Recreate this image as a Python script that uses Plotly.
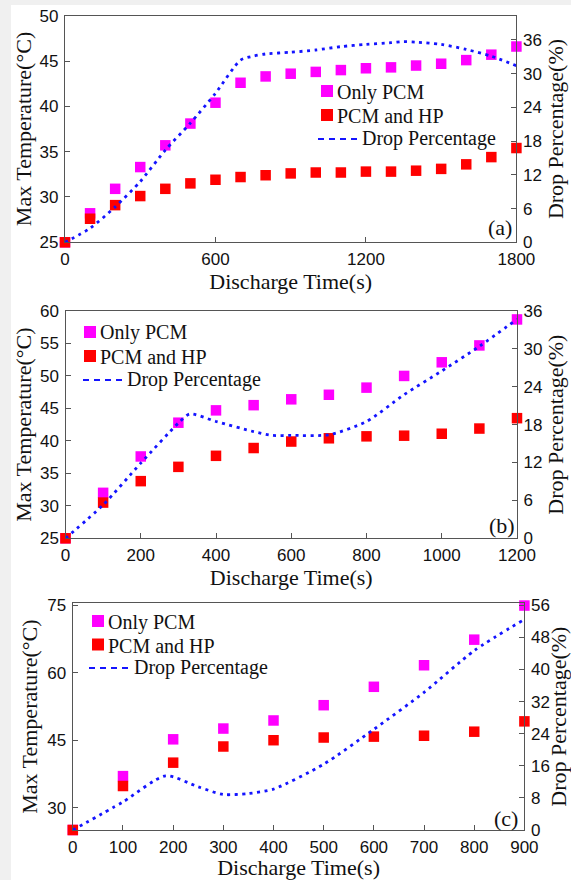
import plotly.graph_objects as go

# the page body margin is set (post_script) to 5px top / 11px left with a light grey background,
# reproducing the grey border of the reference; figure content is laid out in page pixels minus these offsets
OFFX, OFFY = 11, 5
W, H = 571 - OFFX, 880 - OFFY

# ---------------- data ----------------
# panel (a)
t_a = [0, 100, 200, 300, 400, 500, 600, 700, 800, 900, 1000, 1100, 1200, 1300, 1400, 1500, 1600, 1700, 1800]
pcm_a = [25, 28.2, 30.9, 33.3, 35.7, 38.1, 40.4, 42.6, 43.3, 43.6, 43.8, 44.0, 44.2, 44.3, 44.5, 44.7, 45.1, 45.7, 46.6]
hp_a = [25, 27.6, 29.1, 30.1, 30.9, 31.5, 31.9, 32.2, 32.4, 32.6, 32.7, 32.7, 32.8, 32.8, 32.9, 33.1, 33.6, 34.4, 35.4]
drop_t_a = [0, 100, 200, 300, 400, 500, 600, 700, 750, 800, 900, 1000, 1100, 1200, 1300, 1350, 1400, 1500, 1600, 1700, 1800]
drop_a = [0, 2.5, 6.3, 10.8, 16.4, 21.2, 26.5, 32.4, 33.1, 33.5, 33.8, 34.2, 34.8, 35.2, 35.5, 35.7, 35.6, 35.2, 34.3, 33.1, 31.4]

# panel (b)
t_b = [0, 100, 200, 300, 400, 500, 600, 700, 800, 900, 1000, 1100, 1200]
pcm_b = [25, 32.0, 37.6, 42.8, 44.7, 45.5, 46.4, 47.1, 48.2, 50.0, 52.1, 54.7, 58.7]
hp_b = [25, 30.5, 33.8, 36.0, 37.7, 38.9, 39.9, 40.4, 40.7, 40.8, 41.1, 41.9, 43.5]
drop_t_b = [0, 100, 200, 300, 330, 400, 500, 550, 600, 700, 800, 900, 1000, 1100, 1200]
drop_b = [0, 5.3, 11.9, 18.25, 19.7, 18.5, 16.9, 16.3, 16.3, 16.4, 18.5, 22.75, 26.5, 30.4, 34.7]

# panel (c)
t_c = [0, 100, 200, 300, 400, 500, 600, 700, 800, 900]
pcm_c = [25, 37.0, 45.2, 47.6, 49.4, 52.8, 56.9, 61.7, 67.4, 75.0]
hp_c = [25, 34.8, 40.0, 43.6, 45.0, 45.6, 45.8, 46.0, 46.9, 49.2]
drop_t_c = [0, 100, 185, 250, 300, 350, 400, 500, 600, 700, 800, 900]
drop_c = [0, 7.0, 13.5, 10.75, 8.85, 9.1, 10.2, 16.4, 25.1, 34.3, 44.7, 52.5]

# tick labels
ticks_a_x = [0, 600, 1200, 1800]
ticks_a_l = [25, 30, 35, 40, 45, 50]
ticks_a_r = [0, 6, 12, 18, 24, 30, 36]
ticks_b_x = [0, 200, 400, 600, 800, 1000, 1200]
ticks_b_l = [25, 30, 35, 40, 45, 50, 55, 60]
ticks_b_r = [0, 6, 12, 18, 24, 30, 36]
ticks_c_x = [0, 100, 200, 300, 400, 500, 600, 700, 800, 900]
ticks_c_l = [30, 45, 60, 75]
ticks_c_r = [0, 8, 16, 24, 32, 40, 48, 56]

names = ["Only PCM", "PCM and HP", "Drop Percentage"]
panel_labels = ["(a)", "(b)", "(c)"]

# ---------------- layout helpers (page pixels -> paper) ----------------
def px(x):
    return (x - OFFX) / W

def py(y):
    return 1 - (y - OFFY) / H

MAG = "#ff00ff"
RED = "#ff0000"
BLUE = "#1414ff"
AX = "#555555"
SERIF = "Liberation Serif"
SANS = "Liberation Sans"

# plot boxes in page pixels: (x0, x1, ytop, ybottom)
boxes = [(65, 516.4, 15.7, 242.3), (65.5, 517, 311, 538.3), (72.8, 524.4, 603.3, 830)]
xranges = [[0, 1800], [0, 1200], [0, 900]]
lranges = [[25, 50], [25, 60], [25, 75.5]]
rranges = [[0, 40.3], [0, 36], [0, 56.5]]
xticks = [ticks_a_x, ticks_b_x, ticks_c_x]
lticks = [ticks_a_l, ticks_b_l, ticks_c_l]
rticks = [ticks_a_r, ticks_b_r, ticks_c_r]
data = [(t_a, pcm_a, hp_a, drop_t_a, drop_a),
        (t_b, pcm_b, hp_b, drop_t_b, drop_b),
        (t_c, pcm_c, hp_c, drop_t_c, drop_c)]
# legend anchor: (marker x0, first row center y, row step, text x for markers, dash x0, dash x1, text x for line)
legends = [(321, 91, 24, 335, 318, 358, 360),
           (84, 332, 24, 98, 83, 123, 125),
           (92, 621, 23.5, 106, 89, 131, 132)]
label_pos = [(500, 227), (502, 525), (506, 818)]
rtitle_std = [6, 6, 1]

fig = go.Figure()
layout = dict(width=W, height=H, margin=dict(l=0, r=0, t=0, b=0), template="none",
              paper_bgcolor="white", plot_bgcolor="white", showlegend=False)
shapes = []
annotations = []

for i in range(3):
    x0, x1, yt, yb = boxes[i]
    t, pcm, hp, dt, dp = data[i]
    xa = "x" if i == 0 else f"x{i+1}"
    yl = f"y{2*i+1}" if i > 0 else "y"
    yr = f"y{2*i+2}"
    xa_key = "xaxis" if i == 0 else f"xaxis{i+1}"
    yl_key = "yaxis" if i == 0 else f"yaxis{2*i+1}"
    yr_key = f"yaxis{2*i+2}"

    fig.add_trace(go.Scatter(x=dt, y=dp, mode="lines", name=names[2], xaxis=xa, yaxis=yr,
                             line=dict(color=BLUE, width=2.8, dash="3px,4.5px", shape="spline", smoothing=0.7)))
    fig.add_trace(go.Scatter(x=t, y=pcm, mode="markers", name=names[0], xaxis=xa, yaxis=yl, cliponaxis=False,
                             marker=dict(symbol="square", size=10.5, color=MAG, line=dict(width=0))))
    fig.add_trace(go.Scatter(x=t, y=hp, mode="markers", name=names[1], xaxis=xa, yaxis=yl, cliponaxis=False,
                             marker=dict(symbol="square", size=10.5, color=RED, line=dict(width=0))))

    common = dict(showgrid=False, zeroline=False, showline=True, linecolor=AX, linewidth=1.4,
                  ticks="inside", ticklen=5, tickcolor=AX, tickwidth=1.2, automargin=False,
                  tickfont=dict(family=SANS, size=17, color="#111"))
    layout[xa_key] = dict(common, domain=[px(x0), px(x1)], anchor=yl, range=xranges[i],
                          tickvals=xticks[i], mirror=True, ticklabelstandoff=1,
                          title=dict(text="Discharge Time(s)", font=dict(family=SERIF, size=22, color="#111"), standoff=2))
    layout[yl_key] = dict(common, domain=[py(yb), py(yt)], anchor=xa, range=lranges[i],
                          tickvals=lticks[i], ticklabelstandoff=2,
                          title=dict(text="Max Temperature(°C)", font=dict(family=SERIF, size=22, color="#111"), standoff=3))
    layout[yr_key] = dict(common, overlaying=yl, side="right", anchor=xa, range=rranges[i],
                          tickvals=rticks[i], ticklabelstandoff=2,
                          title=dict(text="Drop Percentage(%)", font=dict(family=SERIF, size=22, color="#111"), standoff=rtitle_std[i]))

    # custom legend
    mx, cy, step, tx, dx0, dx1, ltx = legends[i]
    for k, col in enumerate([MAG, RED]):
        yc = cy + k * step
        shapes.append(dict(type="rect", xref="paper", yref="paper", x0=px(mx), x1=px(mx + 12),
                           y0=py(yc + 6), y1=py(yc - 6), fillcolor=col, line=dict(width=0)))
        annotations.append(dict(xref="paper", yref="paper", x=px(tx), y=py(yc + 1), xanchor="left", yanchor="middle",
                                text=names[k], showarrow=False, font=dict(family=SERIF, size=20, color="#111")))
    yc = cy + 2 * step
    shapes.append(dict(type="line", xref="paper", yref="paper", x0=px(dx0), x1=px(dx1), y0=py(yc), y1=py(yc),
                       line=dict(color=BLUE, width=2.2, dash="6px,5px")))
    annotations.append(dict(xref="paper", yref="paper", x=px(ltx), y=py(yc - 1), xanchor="left", yanchor="middle",
                            text=names[2], showarrow=False, font=dict(family=SERIF, size=20, color="#111")))
    lx, ly = label_pos[i]
    annotations.append(dict(xref="paper", yref="paper", x=px(lx), y=py(ly), xanchor="center", yanchor="middle",
                            text=panel_labels[i], showarrow=False, font=dict(family=SERIF, size=22, color="#111")))

layout["shapes"] = shapes
layout["annotations"] = annotations
fig.update_layout(**layout)
fig.write_html("out.html",
               post_script="document.body.style.background='#f0f0f0';"
                           "document.body.style.margin='5px 0 0 11px';")
